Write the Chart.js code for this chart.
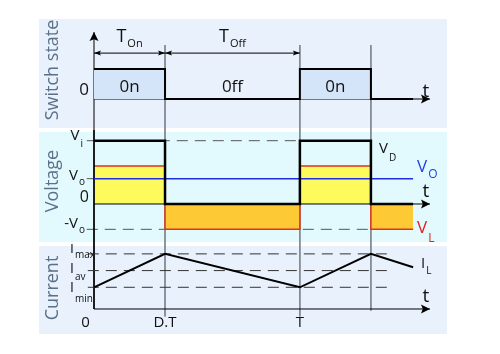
<!DOCTYPE html>
<html lang="en">
<head>
<meta charset="UTF-8">
<title>Buck converter waveforms</title>
<script src="https://cdn.jsdelivr.net/npm/chart.js"></script>
<style>
  body { margin: 0; background: #fff; }
  #wrap { position: relative; width: 500px; height: 354px; overflow: hidden; }
  .panel { position: absolute; left: 39px; width: 408px; }
  #p1 { top: 19px; height: 109px; background: #e8f1fc; }
  #p2 { top: 132px; height: 110px; background: #e2fafd; }
  #p3 { top: 246px; height: 88px; background: #e8f1fc; }
  canvas { position: absolute; left: 0; }
</style>
</head>
<body>
<div id="wrap">
  <div class="panel" id="p1"></div>
  <div class="panel" id="p2"></div>
  <div class="panel" id="p3"></div>
  <canvas id="switchChart" width="500" height="130" style="top:0"></canvas>
  <canvas id="voltageChart" width="500" height="114" style="top:130px"></canvas>
  <canvas id="currentChart" width="500" height="110" style="top:244px"></canvas>
</div>

<script>
// time is in periods (T = 1)
const duty = 0.345;
const tEnd = 1.55;
const tArrow = 1.632;
const stepTimes = [0, duty, duty, 1, 1, 1 + duty, 1 + duty, tEnd];
const switchState = [1, 1, 0, 0, 1, 1, 0, 0];
// voltages in units of V_i
const vIn = 1;
const vOut = 0.4;
const vDiode = [1, 1, 0, 0, 1, 1, 0, 0];
const vInductor = [0.6, 0.6, -0.4, -0.4, 0.6, 0.6, -0.4, -0.4];
// inductor current (arbitrary units)
const rampTimes = [0, duty, 1, 1 + duty, tEnd];
const iInductor = [1.3, 3.3, 1.3, 3.3, 2.5];
const iMin = 1.3, iAv = 2.3, iMax = 3.3;
const tickTimes = [0, duty, 1];
const tickLabels = ['0', 'D.T', 'T'];

const FONT = '"Open Sans", "DejaVu Sans", sans-serif';
const gridColor = '#7d8791';

function line(xs, ys, opt) {
    return Object.assign({
        data: xs.map((x, k) => ({ x: x, y: ys[k] })),
        borderColor: '#000',
        borderWidth: 1,
        fill: false,
        clip: false,
        pointRadius: 0
    }, opt);
}

function vline(t, y0, y1, order) {
    return line([t, t], [y0, y1], { borderColor: gridColor, order: order });
}

// arrow heads at the ends of a dataset line
const arrowPlugin = {
    id: 'arrows',
    afterDatasetsDraw(chart) {
        const ctx = chart.ctx;
        chart.data.datasets.forEach((ds, i) => {
            if (!ds.arrows) return;
            const pts = chart.getDatasetMeta(i).data;
            const ends = [];
            if (ds.arrows.end) ends.push([pts[pts.length - 1], pts[pts.length - 2]]);
            if (ds.arrows.start) ends.push([pts[0], pts[1]]);
            ends.forEach(([tip, from]) => {
                const ang = Math.atan2(tip.y - from.y, tip.x - from.x);
                const L = ds.arrows.len, W = ds.arrows.half;
                ctx.save();
                ctx.translate(tip.x, tip.y);
                ctx.rotate(ang);
                ctx.beginPath();
                ctx.moveTo(0, 0);
                ctx.lineTo(-L, -W);
                ctx.lineTo(-L * 0.8, 0);
                ctx.lineTo(-L, W);
                ctx.closePath();
                ctx.fillStyle = ds.borderColor;
                ctx.fill();
                ctx.restore();
            });
        });
    }
};

function textPlugin(items, title, titleY) {
    return {
        id: 'texts',
        afterDraw(chart) {
            const ctx = chart.ctx;
            const xs = chart.scales.x, ys = chart.scales.y;
            ctx.save();
            items.forEach(a => {
                const x = xs.getPixelForValue(a.t) + (a.dx || 0);
                const y = ys.getPixelForValue(a.v) + (a.dy || 0);
                ctx.font = a.size + 'px ' + FONT;
                const w1 = ctx.measureText(a.text).width;
                let w2 = 0;
                if (a.sub) {
                    ctx.font = a.subSize + 'px ' + FONT;
                    w2 = ctx.measureText(a.sub).width + 1;
                }
                let x0 = x;
                if (a.align === 'center') x0 = x - (w1 + w2) / 2;
                if (a.align === 'right') x0 = x - w1 - w2;
                ctx.fillStyle = a.color || '#111';
                ctx.textAlign = 'left';
                ctx.textBaseline = 'alphabetic';
                ctx.font = a.size + 'px ' + FONT;
                ctx.fillText(a.text, x0, y);
                if (a.sub) {
                    ctx.font = a.subSize + 'px ' + FONT;
                    ctx.fillText(a.sub, x0 + w1 + 1, y + a.drop);
                }
            });
            // panel title
            ctx.translate(53, titleY);
            ctx.rotate(-Math.PI / 2);
            ctx.font = '18px ' + FONT;
            ctx.fillStyle = '#5b7189';
            ctx.textAlign = 'center';
            ctx.textBaseline = 'middle';
            ctx.fillText(title, 0, 0);
            ctx.restore();
        }
    };
}

function makeChart(id, yMin, yMax, datasets, plugin) {
    return new Chart(document.getElementById(id), {
        type: 'line',
        data: { datasets: datasets },
        options: {
            responsive: false,
            animation: false,
            devicePixelRatio: 1,
            events: [],
            layout: { padding: { left: 94, right: 56, top: 0, bottom: 0 } },
            scales: {
                x: { type: 'linear', min: 0, max: 1.7, display: false },
                y: { type: 'linear', min: yMin, max: yMax, display: false }
            },
            elements: { line: { tension: 0 } },
            plugins: { legend: { display: false }, tooltip: { enabled: false } }
        },
        plugins: [arrowPlugin, plugin]
    });
}

// ---- switch state ----
const swMin = -1.033, swMax = 3.3;
const spanLevel = 1.53;
makeChart('switchChart', swMin, swMax, [
    line(stepTimes, switchState, { borderWidth: 2, fill: 'origin', backgroundColor: '#d5e5f9', order: 0 }),
    line([0, tArrow], [0, 0], { arrows: { end: true, len: 9, half: 4.5 }, order: 1 }),
    line([0, 0], [swMin, 2.23], { arrows: { end: true, len: 9, half: 4.5 }, order: 1 }),
    line([0, duty], [spanLevel, spanLevel], { arrows: { start: true, end: true, len: 7, half: 2.5 }, order: 1 }),
    line([duty, 1], [spanLevel, spanLevel], { arrows: { start: true, end: true, len: 7, half: 2.5 }, order: 1 }),
    vline(duty, 1.8, swMin, 2),
    vline(1, 1.8, swMin, 2),
    vline(1 + duty, 1.8, swMin, 2)
], textPlugin([
    { text: 'T', sub: 'On', t: duty / 2, v: 1.9, size: 18, subSize: 11, drop: 5, align: 'center' },
    { text: 'T', sub: 'Off', t: (1 + duty) / 2, v: 1.9, size: 18, subSize: 11, drop: 5, align: 'center' },
    { text: '0n', t: duty / 2, v: 0.233, size: 17, align: 'center' },
    { text: '0ff', t: (1 + duty) / 2, v: 0.233, size: 17, align: 'center' },
    { text: '0n', t: 1 + duty / 2, v: 0.233, size: 17, align: 'center' },
    { text: '0', t: 0, dx: -5, v: 0.133, size: 17, align: 'right' },
    { text: 't', t: 1.612, v: 0.067, size: 19, align: 'center' }
], 'Switch state', 70));

// ---- voltage ----
const vMin = -0.632, vMax = 1.169;
makeChart('voltageChart', vMin, vMax, [
    line(stepTimes, vDiode, { borderWidth: 2.5, order: 0 }),
    line([0, tEnd], [vOut, vOut], { borderColor: '#1f2fe0', borderWidth: 1.5, order: 1 }),
    line([0, tArrow], [0, 0], { arrows: { end: true, len: 9, half: 4.5 }, order: 2 }),
    line([0, 0], [vMax, vMin], { order: 2 }),
    line(stepTimes, vInductor, {
        borderColor: '#e2321e', borderWidth: 1.5,
        fill: { target: 'origin', above: '#fdfa5e', below: '#fdc935' }, order: 3
    }),
    line([-0.035, 1 + duty], [vIn, vIn], { borderColor: '#555', borderDash: [11, 7], order: 4 }),
    line([-0.035, 1 + duty], [-vOut, -vOut], { borderColor: '#555', borderDash: [11, 7], order: 4 }),
    line([-0.035, 0], [vOut, vOut], { borderColor: '#555', order: 4 }),
    vline(duty, vMax, vMin, 5),
    vline(1, vMax, vMin, 5),
    vline(1 + duty, vMax, vMin, 5)
], textPlugin([
    { text: 'V', sub: 'i', t: 0, dx: -11, v: 1.011, size: 15, subSize: 10, drop: 7, align: 'right' },
    { text: 'V', sub: 'o', t: 0, dx: -9, v: 0.379, size: 15, subSize: 10, drop: 5, align: 'right' },
    { text: '0', t: 0, dx: -5, v: 0.032, size: 16, align: 'right' },
    { text: '-V', sub: 'o', t: 0, dx: -9, v: -0.379, size: 15, subSize: 10, drop: 5, align: 'right' },
    { text: 'V', sub: 'D', t: 1.384, v: 0.806, size: 15, subSize: 10, drop: 8 },
    { text: 'V', sub: 'O', t: 1.569, v: 0.506, size: 17, subSize: 12, drop: 6, color: '#2244dd' },
    { text: 't', t: 1.612, v: 0.11, size: 19, align: 'center' },
    { text: 'V', sub: 'L', t: 1.569, v: -0.458, size: 17, subSize: 12, drop: 9, color: '#e0201c' }
], 'Voltage', 51));

// ---- current ----
const cMin = -2.695, cMax = 3.892;
const currentTexts = [
    { text: 'I', sub: 'max', t: 0, dx: -24, v: 3.353, size: 14, subSize: 10, drop: 5 },
    { text: 'I', sub: 'av', t: 0, dx: -24, v: 2.156, size: 14, subSize: 10, drop: 7 },
    { text: 'I', sub: 'min', t: 0, dx: -24, v: 1.018, size: 14, subSize: 10, drop: 10 },
    { text: 'I', sub: 'L', t: 1.588, v: 2.455, size: 15, subSize: 10, drop: 6 },
    { text: 't', t: 1.612, v: 0.42, size: 19, align: 'center' }
];
tickTimes.forEach((t, k) => {
    currentTexts.push({ text: tickLabels[k], t: t, dx: k === 0 ? -8.5 : 0, v: -1.078, size: 15, align: 'center' });
});
makeChart('currentChart', cMin, cMax, [
    line(rampTimes, iInductor, { borderWidth: 2, order: 0 }),
    line([-0.03, 1.427], [iMax, iMax], { borderColor: '#333', borderDash: [11, 7], order: 1 }),
    line([-0.03, 1.427], [iAv, iAv], { borderColor: '#333', borderDash: [11, 7], order: 1 }),
    line([-0.03, 1.427], [iMin, iMin], { borderColor: '#333', borderDash: [11, 7], order: 1 }),
    line([0, tArrow], [0, 0], { arrows: { end: true, len: 9, half: 4.5 }, order: 2 }),
    line([0, 0], [cMax, 0], { order: 2 }),
    vline(duty, cMax, -0.45, 3),
    vline(1, cMax, -0.45, 3),
    vline(1 + duty, cMax, -0.1, 3)
], textPlugin(currentTexts, 'Current', 44));
</script>
</body>
</html>
